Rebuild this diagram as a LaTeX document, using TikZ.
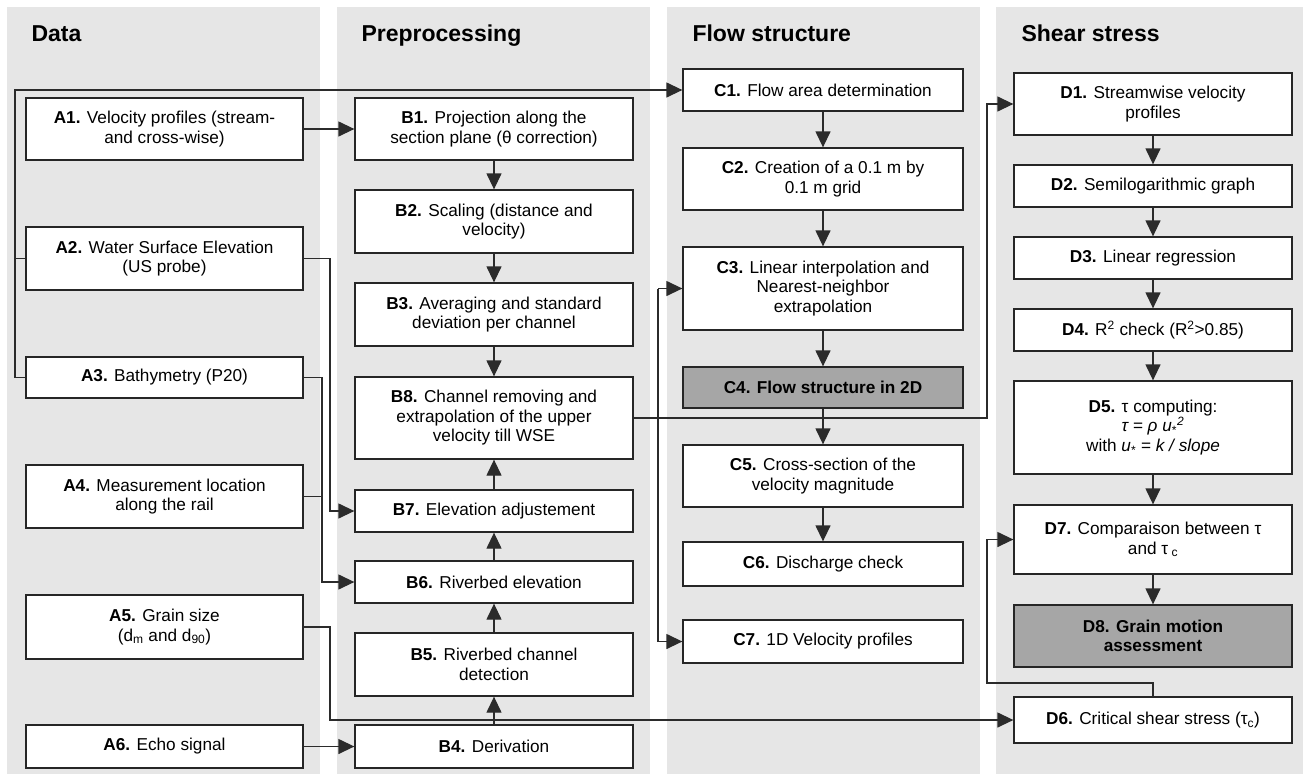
\documentclass[tikz,border=0pt]{standalone}
\usepackage{fontspec}
\setmainfont{Liberation Sans}
\usetikzlibrary{arrows.meta}

\definecolor{colgray}{HTML}{E6E6E6}
\definecolor{keygray}{HTML}{A6A6A6}
\definecolor{boxline}{HTML}{262626}
\definecolor{linecol}{HTML}{2B2B2B}
\newcommand{\boxfont}{\fontsize{17.2}{19.5}\selectfont}
\newcommand{\titlefont}{\fontsize{23}{27}\selectfont\bfseries}

\tikzset{
  box/.style={draw=boxline, fill=white, line width=1.3pt, align=center,
    inner sep=2pt, font=\boxfont, minimum width=#1},
  keybox/.style={box=#1, fill=keygray, font=\boxfont\bfseries},
  arr/.style={line width=1.3pt, draw=linecol, -{Triangle[length=16pt,width=15pt]}},
  link/.style={line width=1.3pt, draw=linecol},
  coltitle/.style={anchor=base west, font=\titlefont}
}

\begin{document}
\begin{tikzpicture}[x=1pt,y=-1pt]
\useasboundingbox (0,0) rectangle (1309,774);

% column backgrounds
\fill[colgray] (7,7) rectangle (320,774);
\fill[colgray] (337,7) rectangle (650,774);
\fill[colgray] (667,7) rectangle (980,774);
\fill[colgray] (996,7) rectangle (1303,774);

\node[coltitle] (tA) at (28,41) {Data};
\node[coltitle] (tB) at (358,41) {Preprocessing};
\node[coltitle] (tC) at (689,41) {Flow structure};
\node[coltitle] (tD) at (1018,41) {Shear stress};

% data
\node[box=277pt, minimum height=62pt] (A1) at (164.5,129) {\textbf{A1.} Velocity profiles (stream-\\and cross-wise)};
\node[box=277pt, minimum height=63pt] (A2) at (164.5,258.5) {\textbf{A2.} Water Surface Elevation\\(US probe)};
\node[box=277pt, minimum height=41pt] (A3) at (164.5,377.5) {\textbf{A3.} Bathymetry (P20)};
\node[box=277pt, minimum height=63pt] (A4) at (164.5,496.5) {\textbf{A4.} Measurement location\\along the rail};
\node[box=277pt, minimum height=64pt] (A5) at (164.5,627) {\textbf{A5.} Grain size\\(d\textsubscript{m} and d\textsubscript{90})};
\node[box=277pt, minimum height=43pt] (A6) at (164.5,746.5) {\textbf{A6.} Echo signal};

% preprocessing
\node[box=278pt, minimum height=62pt] (B1) at (494,129) {\textbf{B1.} Projection along the\\section plane (θ correction)};
\node[box=278pt, minimum height=63pt] (B2) at (494,221.5) {\textbf{B2.} Scaling (distance and\\velocity)};
\node[box=278pt, minimum height=63pt] (B3) at (494,314.5) {\textbf{B3.} Averaging and standard\\deviation per channel};
\node[box=278pt, minimum height=82pt] (B8) at (494,418) {\textbf{B8.} Channel removing and\\extrapolation of the upper\\velocity till WSE};
\node[box=278pt, minimum height=42pt] (B7) at (494,511) {\textbf{B7.} Elevation adjustement};
\node[box=278pt, minimum height=42pt] (B6) at (494,582) {\textbf{B6.} Riverbed elevation};
\node[box=278pt, minimum height=63pt] (B5) at (494,664.5) {\textbf{B5.} Riverbed channel\\detection};
\node[box=278pt, minimum height=43pt] (B4) at (494,746.5) {\textbf{B4.} Derivation};

% flow structure
\node[box=280pt, minimum height=42pt] (C1) at (823,90) {\textbf{C1.} Flow area determination};
\node[box=280pt, minimum height=62pt] (C2) at (823,179) {\textbf{C2.} Creation of a 0.1 m by\\0.1 m grid};
\node[box=280pt, minimum height=83pt] (C3) at (823,288.5) {\textbf{C3.} Linear interpolation and\\Nearest-neighbor\\extrapolation};
\node[keybox=280pt, minimum height=41pt] (C4) at (823,387.5) {C4. Flow structure in 2D};
\node[box=280pt, minimum height=62pt] (C5) at (823,476) {\textbf{C5.} Cross-section of the\\velocity magnitude};
\node[box=280pt, minimum height=44pt] (C6) at (823,564) {\textbf{C6.} Discharge check};
\node[box=280pt, minimum height=43pt] (C7) at (823,641.5) {\textbf{C7.} 1D Velocity profiles};

% shear stress
\node[box=278pt, minimum height=62pt] (D1) at (1153,104) {\textbf{D1.} Streamwise velocity\\profiles};
\node[box=278pt, minimum height=42pt] (D2) at (1153,186) {\textbf{D2.} Semilogarithmic graph};
\node[box=278pt, minimum height=42pt] (D3) at (1153,258) {\textbf{D3.} Linear regression};
\node[box=278pt, minimum height=42pt] (D4) at (1153,330) {\textbf{D4.} R\textsuperscript{2} check (R\textsuperscript{2}>0.85)};
\node[box=278pt, minimum height=93pt] (D5) at (1153,427.5) {\textbf{D5.} τ computing:\\\textit{τ = ρ u}\textsubscript{*}\textsuperscript{\textit{2}}\\with \textit{u}\textsubscript{*} = \textit{k / slope}};
\node[box=278pt, minimum height=69pt] (D7) at (1153,539.5) {\textbf{D7.} Comparaison between τ\\and τ\textsubscript{ c}};
\node[keybox=278pt, minimum height=62pt] (D8) at (1153,636) {D8. Grain motion\\assessment};
\node[box=278pt, minimum height=46pt] (D6) at (1153,720) {\textbf{D6.} Critical shear stress (τ\textsubscript{c})};

% bend points
\coordinate (trunk) at (15,90);
\coordinate (wse) at (330,511);
\coordinate (bed) at (322,582);
\coordinate (grain) at (330,720);
\coordinate (c3in) at (658,288.5);
\coordinate (c7in) at (658,641.5);
\coordinate (prof) at (987,104);
\coordinate (tc) at (987,683);

% data to processing
\draw[arr] (A3.west) -| (trunk) -- (C1.west);
\draw[link] (A2.west) -- (A2.west -| trunk);
\draw[arr] (A1) -- (B1);
\draw[arr] (A2.east) -| (wse) -- (B7.west);
\draw[arr] (A3.east) -| (bed) -- (B6.west);
\draw[link] (A4.east) -- (A4.east -| bed);
\draw[arr] (A5.east) -| (grain) -- (D6.west);
\draw[arr] (A6) -- (B4);

% preprocessing chain
\draw[arr] (B1) -- (B2);
\draw[arr] (B2) -- (B3);
\draw[arr] (B3) -- (B8);
\draw[arr] (B4) -- (B5);
\draw[arr] (B5) -- (B6);
\draw[arr] (B6) -- (B7);
\draw[arr] (B7) -- (B8);

% velocity to flow structure and shear stress
\draw[arr] (B8.east) -| (prof) -- (D1.west);
\draw[link] (c3in) -- (c7in);
\draw[arr] (c3in) -- (C3.west);
\draw[arr] (c7in) -- (C7.west);

% flow structure chain
\draw[arr] (C1) -- (C2);
\draw[arr] (C2) -- (C3);
\draw[arr] (C3) -- (C4);
\draw[arr] (C4) -- (C5);
\draw[arr] (C5) -- (C6);

% shear stress chain
\draw[arr] (D1) -- (D2);
\draw[arr] (D2) -- (D3);
\draw[arr] (D3) -- (D4);
\draw[arr] (D4) -- (D5);
\draw[arr] (D5) -- (D7);
\draw[arr] (D7) -- (D8);
\draw[arr] (D6.north) |- (tc) |- (D7.west);
\end{tikzpicture}
\end{document}
